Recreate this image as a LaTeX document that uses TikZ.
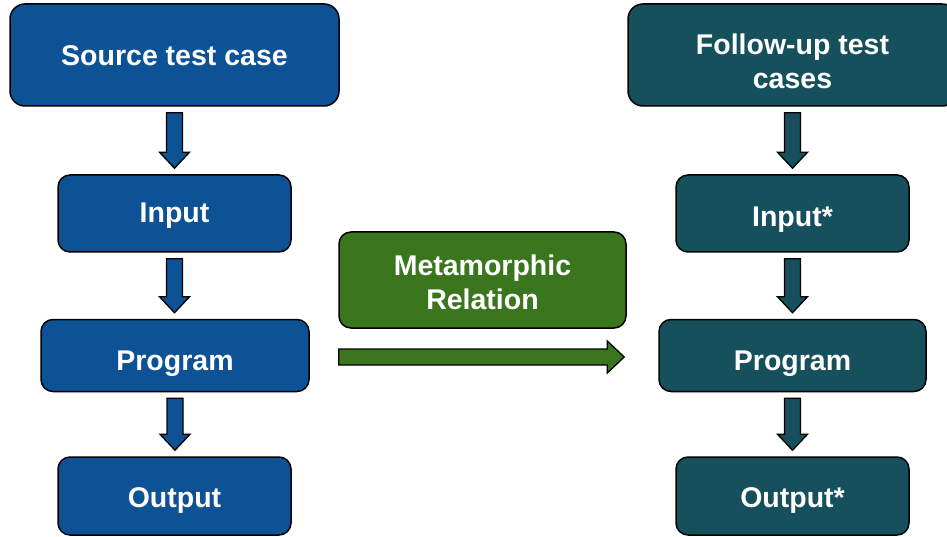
\documentclass[tikz,border=0pt]{standalone}
\usepackage{fontspec}
\setmainfont{Liberation Sans}
\usetikzlibrary{calc}

\definecolor{srcblue}{RGB}{14,82,150}
\definecolor{futeal}{RGB}{21,80,92}
\definecolor{mrgreen}{RGB}{58,118,30}

\tikzset{
  box/.style={draw=black, line width=1.5pt, rounded corners=12pt, text=white,
    font=\fontsize{28.5}{34}\selectfont\bfseries, align=center, inner sep=0pt,
    text depth=0pt},
  % text height sets where the (last) baseline sits below the box centre
  bigbox/.style={box, rounded corners=15pt, minimum width=329pt, minimum height=102pt},
  smallbox/.style={box, minimum width=233pt, minimum height=77pt},
  progbox/.style={box, minimum width=268pt, minimum height=72pt},
  blockarrow/.style={draw=black, line width=1.3pt, line join=miter},
}

% fat downward arrow between two named boxes
\newcommand\fatdown[3]{%
  \draw[blockarrow, fill=#3]
    let \p1=($(#1.south)+(0,6)$), \p2=($(#2.north)+(0,-6)$) in
    (\x1-8pt,\y1) -- (\x1+8pt,\y1) -- (\x1+8pt,\y2+16pt) -- (\x1+15pt,\y2+16pt)
    -- (\x1,\y2) -- (\x1-15pt,\y2+16pt) -- (\x1-8pt,\y2+16pt) -- cycle;}

\begin{document}
\begin{tikzpicture}[x=1pt,y=-1pt]
  \useasboundingbox (0,0) rectangle (947,537);
  \clip (0,0) rectangle (947,537);

  % source side
  \node[bigbox, fill=srcblue, text height=22pt] (src) at (174.5,55) {Source test case};
  \node[smallbox, fill=srcblue, text height=19pt] (in) at (174.5,213.5) {Input};
  \node[progbox, fill=srcblue, text height=29pt] (prog) at (175,355.5) {Program};
  \node[smallbox, fill=srcblue, minimum height=78pt, text height=22pt] (out) at (174.5,496) {Output};

  % follow-up side
  \node[bigbox, fill=futeal, text height=68pt] (fu) at (792.5,55) {Follow-up test\\cases};
  \node[smallbox, fill=futeal, text height=27pt] (in2) at (792.5,213.5) {Input*};
  \node[progbox, fill=futeal, minimum width=267pt, text height=29pt] (prog2) at (792.5,355.5) {Program};
  \node[smallbox, fill=futeal, minimum height=78pt, text height=22pt] (out2) at (792.5,496) {Output*};

  % relation in the middle
  \node[box, fill=mrgreen, minimum width=287pt, minimum height=96pt, text height=59pt]
    (mr) at (482.5,280) {Metamorphic\\Relation};

  % vertical flow arrows
  \fatdown{src}{in}{srcblue}
  \fatdown{in}{prog}{srcblue}
  \fatdown{prog}{out}{srcblue}
  \fatdown{fu}{in2}{futeal}
  \fatdown{in2}{prog2}{futeal}
  \fatdown{prog2}{out2}{futeal}

  % horizontal arrow from source program to follow-up program
  \coordinate (hs) at ($(prog.east)+(29,1.5)$);
  \coordinate (he) at ($(prog2.west)+(-34,1.5)$);
  \draw[blockarrow, fill=mrgreen]
    let \p1=(hs), \p2=(he) in
    (\x1,\y1+8pt) -- (\x2-17pt,\y1+8pt) -- (\x2-17pt,\y1+16pt) -- (\x2,\y1)
    -- (\x2-17pt,\y1-16pt) -- (\x2-17pt,\y1-8pt) -- (\x1,\y1-8pt) -- cycle;
\end{tikzpicture}
\end{document}
